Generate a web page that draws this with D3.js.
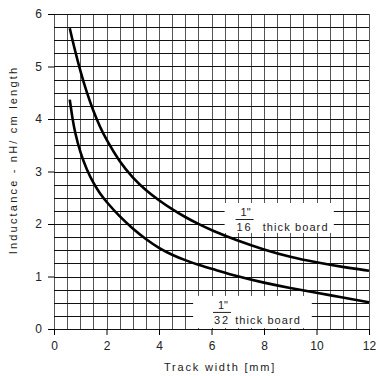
<!DOCTYPE html>
<html>
<head>
<meta charset="utf-8">
<script src="https://cdn.jsdelivr.net/npm/d3@7"></script>
<style>
  body { margin: 0; background: #fff; }
  svg text { font-family: "Liberation Sans", Arial, sans-serif; fill: #222; }
</style>
</head>
<body>
<div class="chart"></div>
<script>
// values
var widthsThick16 = [0.6, 0.8, 1.0, 1.25, 1.5, 1.75, 2.0, 2.5, 3.0, 3.5, 4.0, 4.5, 5.0, 5.5, 6, 7, 8, 9, 10, 11, 12];
var inductThick16 = [5.73, 5.3, 4.92, 4.5, 4.15, 3.85, 3.6, 3.18, 2.88, 2.64, 2.45, 2.28, 2.13, 2.0, 1.88, 1.68, 1.51, 1.37, 1.27, 1.18, 1.11];
var widthsThick32 = [0.6, 0.7, 0.8, 1.0, 1.25, 1.5, 1.75, 2.0, 2.5, 3.0, 3.5, 4.0, 4.5, 5.0, 5.5, 6, 7, 8, 9, 10, 11, 12];
var inductThick32 = [4.37, 4.02, 3.74, 3.36, 3.03, 2.78, 2.58, 2.42, 2.14, 1.91, 1.71, 1.54, 1.41, 1.31, 1.22, 1.15, 1.0, 0.88, 0.78, 0.69, 0.6, 0.51];
var xTicks = [0, 2, 4, 6, 8, 10, 12];
var yTicks = [0, 1, 2, 3, 4, 5, 6];

var svg = d3.select(".chart").append("svg")
    .attr("width", 380).attr("height", 376),
    margin = {top: 14, left: 54},
    width = 315,
    height = 315;

var x = d3.scaleLinear().domain([0, 12]).range([0, width]);
var y = d3.scaleLinear().domain([0, 6]).range([height, 0]);

var g = svg.append("g")
    .attr("transform", "translate(" + margin.left + "," + margin.top + ")");

// grid: every 0.5 mm across, every 0.25 up
g.selectAll(".vgrid")
    .data(d3.range(0, 12.01, 0.5))
    .enter().append("line")
    .attr("x1", (d) => Math.round(x(d)) + 0.5).attr("x2", (d) => Math.round(x(d)) + 0.5)
    .attr("y1", 0).attr("y2", height)
    .style("stroke", "#555").style("stroke-width", 1);

g.selectAll(".hgrid")
    .data(d3.range(0, 6.01, 0.25))
    .enter().append("line")
    .attr("y1", (d) => Math.round(y(d)) + 0.5).attr("y2", (d) => Math.round(y(d)) + 0.5)
    .attr("x1", 0).attr("x2", width)
    .style("stroke", "#111").style("stroke-width", 1);

var xAxis = d3.axisBottom(x).tickValues(xTicks).tickSize(6).tickPadding(6).tickFormat(d3.format("d"));
var yAxis = d3.axisLeft(y).tickValues(yTicks).tickSize(6).tickPadding(6).tickFormat(d3.format("d"));

g.append("g")
    .attr("transform", "translate(0," + height + ")")
    .call(xAxis)
    .call((s) => s.select(".domain").remove());
g.append("g")
    .call(yAxis)
    .call((s) => s.select(".domain").remove());

svg.selectAll(".tick text")
    .style("font-size", "12px").style("fill", "#222");

// white label boxes behind the curve labels
var labels = [
    {x0: 6.5, x1: 10.66, y0: 2.4, y1: 1.83, den: "16", fx: 7.26, tx: 7.95},
    {x0: 5.3, x1: 9.82, y0: 0.63, y1: 0.02, den: "32", fx: 6.4, tx: 6.9}
];

labels.forEach(function(l) {
    g.append("rect")
        .attr("x", x(l.x0)).attr("y", y(l.y0))
        .attr("width", x(l.x1) - x(l.x0)).attr("height", y(l.y1) - y(l.y0))
        .style("fill", "#fff");
    var top = y(l.y0);
    g.append("text").attr("x", x(l.fx) + 1).attr("y", top + 13)
        .attr("text-anchor", "middle").style("font-size", "11px").text("1\"");
    g.append("line")
        .attr("x1", x(l.fx) - 9).attr("x2", x(l.fx) + 9)
        .attr("y1", top + 16.5).attr("y2", top + 16.5)
        .style("stroke", "#222").style("stroke-width", 1);
    g.append("text").attr("x", x(l.fx)).attr("y", top + 28)
        .attr("text-anchor", "middle").style("font-size", "11px")
        .style("letter-spacing", "2px").text(l.den);
    g.append("text").attr("x", x(l.tx)).attr("y", top + 28)
        .style("font-size", "11px").style("letter-spacing", "1.1px").text("thick board");
});

var line = d3.line()
    .x((d) => x(d[0]))
    .y((d) => y(d[1]))
    .curve(d3.curveBasis);

[d3.zip(widthsThick16, inductThick16), d3.zip(widthsThick32, inductThick32)].forEach(function(s) {
    g.append("path")
        .datum(s)
        .attr("d", line)
        .style("fill", "none")
        .style("stroke", "#000")
        .style("stroke-width", 2.6);
});

svg.append("text")
    .attr("x", 220).attr("y", 371)
    .attr("text-anchor", "middle")
    .style("font-size", "11px").style("letter-spacing", "1.8px")
    .text("Track width [mm]");

svg.append("text")
    .attr("transform", "translate(17,160) rotate(-90)")
    .attr("text-anchor", "middle")
    .style("font-size", "11px").style("letter-spacing", "2.2px")
    .text("Inductance - nH/ cm length");
</script>
</body>
</html>
